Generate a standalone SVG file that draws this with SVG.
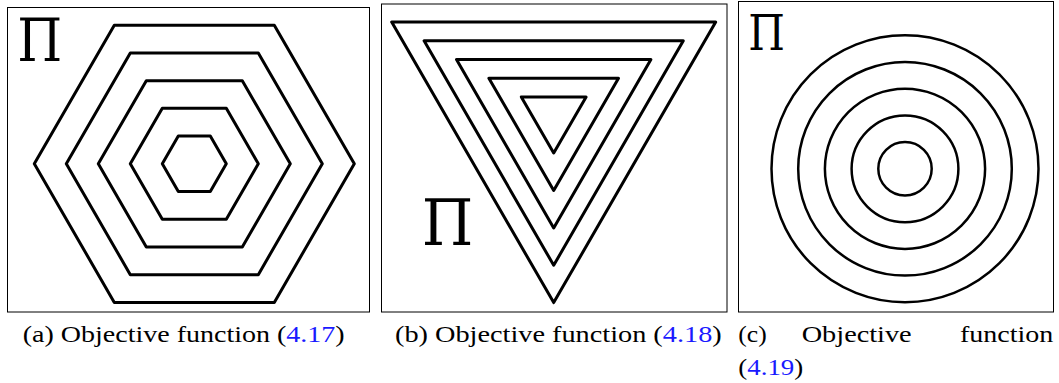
<svg xmlns="http://www.w3.org/2000/svg" width="1059" height="383" viewBox="0 0 1059 383">
<style>
.frame{fill:none;stroke:#000;stroke-width:1}
.shape{fill:none;stroke:#000;stroke-width:3;stroke-linejoin:round;stroke-linecap:round}
.ring{fill:none;stroke:#000;stroke-width:2.5}
.pi{font-family:"DejaVu Serif","Liberation Serif",serif;fill:#000}
.cap{font-family:"Liberation Serif","Times New Roman",serif;font-size:24px;fill:#000}
.ref{fill:#1a1aff}
</style>
<rect width="1059" height="383" fill="#fff"/>
<g id="panel-a">
<rect class="frame" x="7.5" y="7.5" width="362" height="304.5"/>
<polygon class="shape" points="34.3,163.8 114.3,25.2 274.3,25.2 354.3,163.8 274.3,302.4 114.3,302.4"/>
<polygon class="shape" points="66.3,163.8 130.3,52.95 258.3,52.95 322.3,163.8 258.3,274.65 130.3,274.65"/>
<polygon class="shape" points="98.3,163.8 146.3,80.66 242.3,80.66 290.3,163.8 242.3,246.94 146.3,246.94"/>
<polygon class="shape" points="130.3,163.8 162.3,108.37 226.3,108.37 258.3,163.8 226.3,219.23 162.3,219.23"/>
<polygon class="shape" points="162.3,163.8 178.3,136.09 210.3,136.09 226.3,163.8 210.3,191.51 178.3,191.51"/>
<text class="pi" x="17.3" y="61" font-size="59" textLength="45" lengthAdjust="spacingAndGlyphs">Π</text>
<text class="cap" x="22.7" y="342" textLength="322" lengthAdjust="spacingAndGlyphs">(a) Objective function (<tspan class="ref">4.17</tspan>)</text>
</g>
<g id="panel-b">
<rect class="frame" x="381.5" y="4" width="345.5" height="308"/>
<polygon class="shape" points="391.7,22.1 715.7,22.1 553.7,302.6"/>
<polygon class="shape" points="424.1,40.8 683.3,40.8 553.7,265.3"/>
<polygon class="shape" points="456.5,59.5 650.9,59.5 553.7,227.9"/>
<polygon class="shape" points="488.9,78.2 618.5,78.2 553.7,190.4"/>
<polygon class="shape" points="521.3,96.9 586.1,96.9 553.7,153"/>
<text class="pi" x="421.7" y="245" font-size="64" textLength="51.6" lengthAdjust="spacingAndGlyphs">Π</text>
<text class="cap" x="395" y="342" textLength="326.7" lengthAdjust="spacingAndGlyphs">(b) Objective function (<tspan class="ref">4.18</tspan>)</text>
</g>
<g id="panel-c">
<rect class="frame" x="738.5" y="1.5" width="315" height="310.5"/>
<circle class="ring" cx="905" cy="168.8" r="133.5"/>
<circle class="ring" cx="905" cy="168.8" r="106.8"/>
<circle class="ring" cx="905" cy="168.8" r="80.1"/>
<circle class="ring" cx="905" cy="168.8" r="53.4"/>
<circle class="ring" cx="905" cy="168.8" r="26.7"/>
<text class="pi" x="748.3" y="50" font-size="48" textLength="36.7" lengthAdjust="spacingAndGlyphs">Π</text>
<text class="cap" x="738.3" y="342" textLength="28.4" lengthAdjust="spacingAndGlyphs">(c)</text>
<text class="cap" x="801.7" y="342" textLength="110" lengthAdjust="spacingAndGlyphs">Objective</text>
<text class="cap" x="960" y="342" textLength="93.3" lengthAdjust="spacingAndGlyphs">function</text>
<text class="cap" x="738.3" y="375" textLength="65" lengthAdjust="spacingAndGlyphs">(<tspan class="ref">4.19</tspan>)</text>
</g>
</svg>
